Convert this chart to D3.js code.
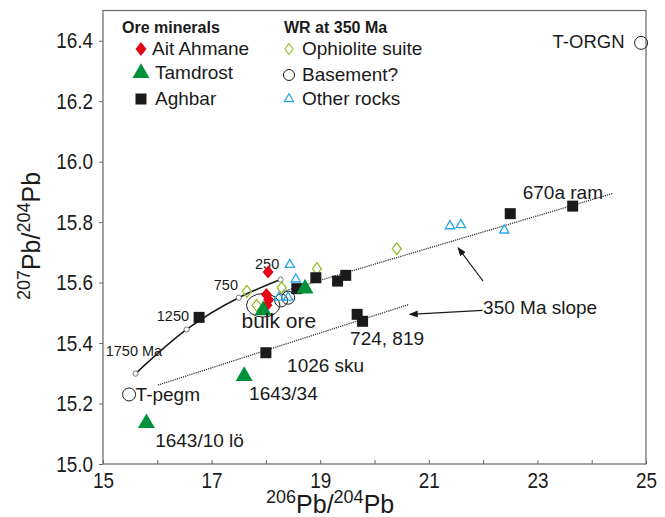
<!DOCTYPE html>
<html>
<head>
<meta charset="utf-8">
<script src="https://cdn.jsdelivr.net/npm/d3@7"></script>
<style>
body{margin:0;background:#fff;}
text{font-family:"Liberation Sans",Arial,sans-serif;fill:#1a1a1a;}
</style>
</head>
<body>
<script>
const width=665;
const height=517;

// ore minerals
const aitAhmane=[[18.04,15.635],[18.01,15.561],[18.05,15.543],[18.02,15.525]];
const tamdrost=[[15.80,15.135],[17.60,15.291],[17.95,15.508],[18.72,15.580]];
const aghbar=[[16.77,15.485],[18.00,15.368],[18.57,15.580],[18.92,15.616],[19.32,15.605],[19.47,15.624],[19.68,15.495],[19.78,15.472],[22.50,15.828],[23.65,15.853]];
// whole rocks at 350 Ma
const ophiolite=[[17.65,15.571],[17.83,15.525],[18.29,15.583],[18.94,15.646],[20.41,15.712]];
const basement=[[24.91,16.393],[15.48,15.230],[18.28,15.541],[18.41,15.550]];
const otherRocks=[[18.44,15.659],[18.55,15.611],[18.24,15.551],[18.41,15.551],[21.39,15.787],[21.59,15.791],[22.39,15.773]];
// growth curve
const growthAges=['1750 Ma','1250','750','250'];
const growthCurve=[[15.60,15.299],[16.54,15.445],[17.50,15.550],[18.27,15.610]];
const ageLabelPos=[[15.05,15.357],[15.99,15.473],[17.04,15.574],[17.80,15.646]];
// 350 Ma reference slopes
const slopeUpper=[[18.26,15.568],[24.39,15.895]];
const slopeLower=[[16.01,15.261],[20.62,15.527]];
const arrows=[[[22.00,15.605],[21.54,15.715]],[[21.99,15.508],[20.65,15.495]]];
// bulk ore ellipse: centre and half axes
const bulkOre=[17.95,15.525,0.308,0.039];
// sample labels
const sampleLabels=['T-ORGN','670a ram','350 Ma slope','bulk ore','724, 819','1026 sku','1643/34','1643/10 lö','T-pegm'];
const sampleLabelPos=[[23.28,16.377],[22.73,15.877],[22.00,15.495],[17.55,15.451],[19.55,15.393],[18.39,15.304],[17.69,15.211],[15.96,15.056],[15.60,15.208]];
const sampleLabelSize=[18.5,19,19,21,19,19,19,19,19];

const xTicks=[15,16,17,18,19,20,21,22,23,24,25];
const yTicks=[15.0,15.2,15.4,15.6,15.8,16.0,16.2,16.4];

const legendOre=['Ait Ahmane','Tamdrost','Aghbar'];
const legendWR=['Ophiolite suite','Basement?','Other rocks'];

const red='#e30613', green='#00913a', lime='#97bf2e', blue='#27a9e1';

const x=d3.scaleLinear().domain([15,25]).range([103,646]);
const y=d3.scaleLinear().domain([15,16.5]).range([464,10.5]);

let svg=d3.select('body').append('svg')
  .attr('width',width).attr('height',height);

svg.append('defs').append('marker')
  .attr('id','arrow').attr('markerUnits','userSpaceOnUse')
  .attr('markerWidth',9).attr('markerHeight',7)
  .attr('refX',8).attr('refY',3.5).attr('orient','auto')
  .append('path').attr('d','M0,0 L9,3.5 L0,7 Z').attr('fill','#1a1a1a');

function diamond(w,h){return `M0,${-h/2} L${w/2},0 L0,${h/2} L${-w/2},0 Z`;}
const triBig=d3.symbol().type(d3.symbolTriangle).size(125)();
const triSmall=d3.symbol().type(d3.symbolTriangle).size(38)();

// axes
let xAxis=d3.axisBottom(x).tickValues(xTicks).tickSize(-4).tickSizeOuter(0).tickPadding(8)
  .tickFormat(d=>d%2?d:'');
let yAxis=d3.axisLeft(y).tickValues(yTicks).tickSize(4).tickSizeOuter(0).tickPadding(6)
  .tickFormat(d3.format('.1f'));

let gx=svg.append('g').attr('transform',`translate(0,${y(15)})`).call(xAxis);
let gy=svg.append('g').attr('transform',`translate(${x(15)},0)`).call(yAxis);
[gx,gy].forEach(g=>{
  g.select('.domain').remove();
  g.selectAll('line').attr('stroke','#666');
  g.selectAll('text').style('font-size','22px').attr('fill','#1a1a1a')
    .style('font-family','"Liberation Sans",Arial,sans-serif');
});
gx.selectAll('text').attr('transform','scale(0.86,1)');
gy.selectAll('text').attr('transform','scale(0.86,1)').attr('x',-10/0.86);

svg.append('rect')
  .attr('x',x(15)).attr('y',y(16.5))
  .attr('width',x(25)-x(15)).attr('height',y(15)-y(16.5))
  .attr('fill','none').attr('stroke','#666').attr('stroke-width',1.2);

// axis titles
function title(t,sup1,sup2){
  t.style('font-size','25px');
  t.append('tspan').text(sup1).style('font-size','18px').attr('dy',-10);
  t.append('tspan').text('Pb/').attr('dy',10);
  t.append('tspan').text(sup2).style('font-size','18px').attr('dy',-10);
  t.append('tspan').text('Pb').attr('dy',10);
}
title(svg.append('text').attr('x',266).attr('y',513),'206','204');
title(svg.append('text').attr('transform','translate(40,236) rotate(-90)').attr('text-anchor','middle'),'207','204');

// 350 Ma slope lines
const line=d3.line().x(d=>x(d[0])).y(d=>y(d[1]));
[slopeUpper,slopeLower].forEach(s=>{
  svg.append('path').attr('d',line(s))
    .attr('fill','none').attr('stroke','#333').attr('stroke-width',1.3)
    .attr('stroke-dasharray','1.2,1');
});
arrows.forEach(a=>{
  svg.append('line')
    .attr('x1',x(a[0][0])).attr('y1',y(a[0][1]))
    .attr('x2',x(a[1][0])).attr('y2',y(a[1][1]))
    .attr('stroke','#1a1a1a').attr('stroke-width',1.1)
    .attr('marker-end','url(#arrow)');
});

// growth curve
svg.append('path').attr('d',line.curve(d3.curveNatural)(growthCurve))
  .attr('fill','none').attr('stroke','#1a1a1a').attr('stroke-width',1.6);
svg.selectAll('.age').data(growthCurve).enter().append('circle')
  .attr('cx',d=>x(d[0])).attr('cy',d=>y(d[1])).attr('r',2.6)
  .attr('fill','#fff').attr('stroke','#555').attr('stroke-width',0.8);
svg.selectAll('.agelabel').data(growthAges).enter().append('text')
  .attr('x',(d,i)=>x(ageLabelPos[i][0])).attr('y',(d,i)=>y(ageLabelPos[i][1]))
  .style('font-size','14.5px').text(d=>d);

// bulk ore ellipse
svg.append('ellipse')
  .attr('cx',x(bulkOre[0])).attr('cy',y(bulkOre[1]))
  .attr('rx',x(bulkOre[0]+bulkOre[2])-x(bulkOre[0]))
  .attr('ry',y(bulkOre[1])-y(bulkOre[1]+bulkOre[3]))
  .attr('fill','none').attr('stroke','#1a1a1a').attr('stroke-width',1);

// whole rocks
svg.selectAll('.basement').data(basement).enter().append('circle')
  .attr('cx',d=>x(d[0])).attr('cy',d=>y(d[1])).attr('r',6.5)
  .attr('fill','none').attr('stroke','#1a1a1a').attr('stroke-width',1);
svg.selectAll('.ophio').data(ophiolite).enter().append('path')
  .attr('d',diamond(9,12)).attr('transform',d=>`translate(${x(d[0])},${y(d[1])})`)
  .attr('fill','none').attr('stroke',lime).attr('stroke-width',1.3);
svg.selectAll('.other').data(otherRocks).enter().append('path')
  .attr('d',triSmall).attr('transform',d=>`translate(${x(d[0])},${y(d[1])})`)
  .attr('fill','none').attr('stroke',blue).attr('stroke-width',1.3);

// ore minerals
svg.selectAll('.aghbar').data(aghbar).enter().append('rect')
  .attr('x',d=>x(d[0])-5.5).attr('y',d=>y(d[1])-5.5)
  .attr('width',11).attr('height',11).attr('fill','#1a1a1a');
svg.selectAll('.ait').data(aitAhmane).enter().append('path')
  .attr('d',diamond(11,13)).attr('transform',d=>`translate(${x(d[0])},${y(d[1])})`)
  .attr('fill',red);
svg.selectAll('.tam').data(tamdrost).enter().append('path')
  .attr('d',triBig).attr('transform',d=>`translate(${x(d[0])},${y(d[1])})`)
  .attr('fill',green);

// sample labels
svg.selectAll('.slabel').data(sampleLabels).enter().append('text')
  .attr('x',(d,i)=>x(sampleLabelPos[i][0])).attr('y',(d,i)=>y(sampleLabelPos[i][1]))
  .style('font-size',(d,i)=>sampleLabelSize[i]+'px').text(d=>d);

// legend
let lg=svg.append('g');
lg.append('text').attr('x',122).attr('y',33).text('Ore minerals')
  .style('font-size','16px').style('font-weight','bold');
lg.append('text').attr('x',284).attr('y',33).text('WR at 350 Ma')
  .style('font-size','16px').style('font-weight','bold');
const rowY=[49,73,99];
lg.append('path').attr('d',diamond(11,14)).attr('transform',`translate(141,${rowY[0]})`).attr('fill',red);
lg.append('path').attr('d',triBig).attr('transform',`translate(141,${rowY[1]})`).attr('fill',green);
lg.append('rect').attr('x',135.5).attr('y',rowY[2]-5.5).attr('width',11).attr('height',11).attr('fill','#1a1a1a');
lg.append('path').attr('d',diamond(8,11)).attr('transform',`translate(289,${rowY[0]})`)
  .attr('fill','none').attr('stroke',lime).attr('stroke-width',1.2);
lg.append('circle').attr('cx',289).attr('cy',rowY[1]+2).attr('r',5.5)
  .attr('fill','none').attr('stroke','#1a1a1a').attr('stroke-width',1);
lg.append('path').attr('d',triSmall).attr('transform',`translate(289,${rowY[2]})`)
  .attr('fill','none').attr('stroke',blue).attr('stroke-width',1.2);
lg.selectAll('.lo').data(legendOre).enter().append('text')
  .attr('x',(d,i)=>i?155:152).attr('y',(d,i)=>rowY[i]+6)
  .style('font-size','19px').text(d=>d);
lg.selectAll('.lw').data(legendWR).enter().append('text')
  .attr('x',302).attr('y',(d,i)=>rowY[i]+6+(i==1?2:0))
  .style('font-size','19px').text(d=>d);
</script>
</body>
</html>
